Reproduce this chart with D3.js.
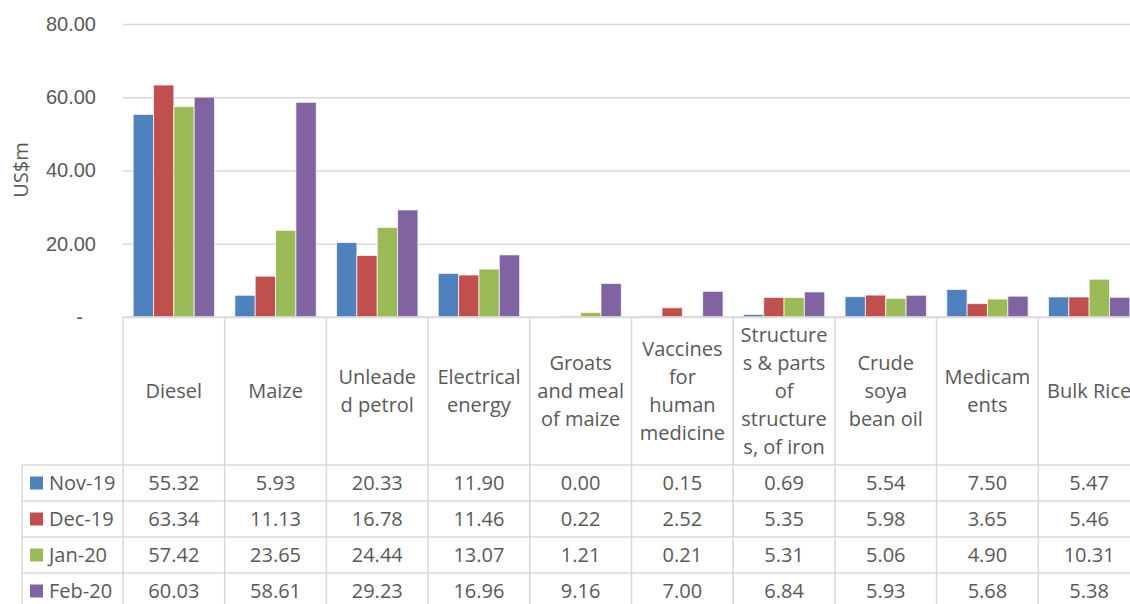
<!DOCTYPE html>
<html>
<head>
<meta charset="utf-8">
<script src="https://cdn.jsdelivr.net/npm/d3@7"></script>
<style>
  body { margin: 0; background: #fff; }
  svg { display: block; font-family: "Open Sans", "Noto Sans", sans-serif; }
  .grid line { stroke: #d9d9d9; stroke-width: 1.5; }
  .tbl line { stroke: #d9d9d9; stroke-width: 1.5; }
  text { fill: #595959; }
</style>
</head>
<body>
<div class="chart"></div>
<script>
// 類別（標籤已依表格寬度斷行）
const categories = ['Diesel', 'Maize', 'Unleaded petrol', 'Electrical energy', 'Groats and meal of maize',
  'Vaccines for human medicine', 'Structures & parts of structures, of iron', 'Crude soya bean oil',
  'Medicaments', 'Bulk Rice'];
const categoryLines = [
  ['Diesel'], ['Maize'], ['Unleade', 'd petrol'], ['Electrical', 'energy'],
  ['Groats', 'and meal', 'of maize'], ['Vaccines', 'for', 'human', 'medicine'],
  ['Structure', 's & parts', 'of', 'structure', 's, of iron'], ['Crude', 'soya', 'bean oil'],
  ['Medicam', 'ents'], ['Bulk Rice']
];
const seriesNames = ['Nov-19', 'Dec-19', 'Jan-20', 'Feb-20'];
const nov19 = [55.32, 5.93, 20.33, 11.90, 0.00, 0.15, 0.69, 5.54, 7.50, 5.47];
const dec19 = [63.34, 11.13, 16.78, 11.46, 0.22, 2.52, 5.35, 5.98, 3.65, 5.46];
const jan20 = [57.42, 23.65, 24.44, 13.07, 1.21, 0.21, 5.31, 5.06, 4.90, 10.31];
const feb20 = [60.03, 58.61, 29.23, 16.96, 9.16, 7.00, 6.84, 5.93, 5.68, 5.38];
const yTicks = [0, 20, 40, 60, 80];
const colors = ['#4f81bd', '#c0504d', '#9bbb59', '#8064a2'];

const seriesValues = [nov19, dec19, jan20, feb20];

const svg_width = 1130, svg_height = 604;
const plot = {left: 123, top: 24, bottom: 317, bandW: 101.7};
const rowH = 36, headerBottom = 465, tableLeft = 22;

const svg = d3.select('.chart').append('svg')
  .attr('width', svg_width).attr('height', svg_height);

const xScale = d3.scaleBand().domain(categories)
  .range([plot.left, plot.left + plot.bandW * categories.length])
  .paddingInner(0).paddingOuter(0);
const inner = d3.scaleBand().domain(seriesNames)
  .range([0, xScale.bandwidth()]).paddingOuter(0.5).paddingInner(0);
const yScale = d3.scaleLinear().domain([0, 80]).range([plot.bottom, plot.top]);

//格線
const yAxis = d3.axisLeft(yScale).tickValues(yTicks)
  .tickSize(-(svg_width - plot.left))
  .tickFormat(d => d === 0 ? '-' : d3.format('.2f')(d));
const yAxisDraw = svg.append('g').attr('class', 'grid')
  .attr('transform', `translate(${plot.left},0)`).call(yAxis);
yAxisDraw.select('.domain').remove();
yAxisDraw.selectAll('text').attr('x', -27).style('font-size', '20px').style('fill', '#595959');
yAxisDraw.selectAll('.tick').filter(d => d === 0).select('text').attr('x', -40);

svg.append('text')
  .attr('transform', `translate(28,170) rotate(-90)`)
  .attr('text-anchor', 'middle')
  .style('font-size', '20px')
  .text('US$m');

//長條
const groups = svg.selectAll('.cat').data(categories).enter().append('g')
  .attr('transform', d => `translate(${xScale(d)},0)`);
groups.selectAll('rect')
  .data((c, i) => seriesNames.map((s, j) => ({s, v: seriesValues[j][i], j})))
  .enter().append('rect')
  .attr('x', d => inner(d.s))
  .attr('y', d => yScale(d.v))
  .attr('width', inner.bandwidth())
  .attr('height', d => yScale(0) - yScale(d.v))
  .attr('fill', d => colors[d.j])
  .attr('stroke', 'rgba(255,255,255,0.7)')
  .attr('stroke-width', 1);

//資料表
const tbl = svg.append('g').attr('class', 'tbl');
tbl.append('line').attr('x1', plot.left).attr('x2', svg_width)
  .attr('y1', plot.bottom).attr('y2', plot.bottom);
const edges = categories.map(c => xScale(c)).concat([xScale.range()[1]]);
tbl.selectAll('.vline').data(edges).enter().append('line')
  .attr('x1', d => d).attr('x2', d => d)
  .attr('y1', plot.bottom).attr('y2', svg_height);
tbl.append('line').attr('x1', tableLeft).attr('x2', tableLeft)
  .attr('y1', headerBottom).attr('y2', svg_height);
tbl.selectAll('.hline').data(d3.range(4)).enter().append('line')
  .attr('x1', tableLeft).attr('x2', svg_width)
  .attr('y1', i => headerBottom + i * rowH).attr('y2', i => headerBottom + i * rowH);

//類別標籤
const lineH = 28, headerMid = 391;
categories.forEach((c, i) => {
  const lines = categoryLines[i];
  const t = svg.append('text').attr('text-anchor', 'middle').style('font-size', '20px');
  lines.forEach((ln, k) => {
    t.append('tspan').attr('x', xScale(c) + xScale.bandwidth() / 2)
      .attr('y', headerMid + (k - (lines.length - 1) / 2) * lineH)
      .attr('dy', '0.35em').text(ln);
  });
});

//圖例與數值
seriesNames.forEach((s, j) => {
  const cy = headerBottom + j * rowH + rowH / 2;
  svg.append('rect').attr('x', 30).attr('y', cy - 6.5).attr('width', 13).attr('height', 13)
    .attr('fill', colors[j]);
  svg.append('text').attr('x', 49).attr('y', cy).attr('dy', '0.35em')
    .style('font-size', '20px').text(s);
  categories.forEach((c, i) => {
    svg.append('text').attr('x', xScale(c) + xScale.bandwidth() / 2).attr('y', cy)
      .attr('dy', '0.35em').attr('text-anchor', 'middle').style('font-size', '20px')
      .text(d3.format('.2f')(seriesValues[j][i]));
  });
});
</script>
</body>
</html>
